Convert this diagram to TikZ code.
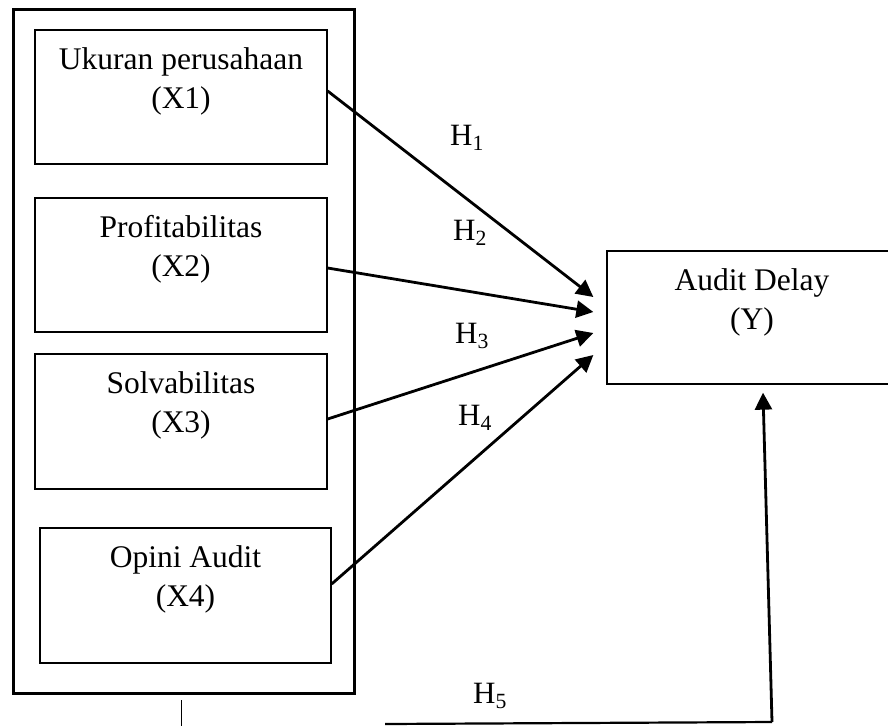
\documentclass[tikz,border=0pt]{standalone}
\usepackage{fontspec}
\setmainfont{Liberation Serif}
\usepackage{tikz}
\usetikzlibrary{arrows.meta}
\usetikzlibrary{positioning}
\tikzset{
	var node/.style={rectangle,draw,line width=1.3pt,inner sep=0pt,minimum width=292pt,minimum height=134pt},
	box text/.style={align=center,inner sep=0pt,font=\fontsize{31.5}{39}\selectfont},
	hyp label/.style={anchor=base,inner sep=0pt,font=\fontsize{31}{29}\selectfont},
	hyp arrow/.style={->,line width=2.8pt}
}

\begin{document}
\begin{tikzpicture}[x=1pt,y=-1pt,>={Triangle[length=17pt,width=17pt]}]
            \useasboundingbox (0,0) rectangle (888,726);
            \clip (0,0) rectangle (888,726);
            \node [var node,line width=3pt,minimum width=341pt,minimum height=684pt] (group) at (183.5,351) {};
            \node [var node] (x1) at (181,97) {};
            \node [var node] (x2) at (181,265) {};
            \node [var node,minimum height=135pt] (x3) at (181,421.5) {};
            \node [var node,minimum width=291pt,minimum height=135pt] (x4) at (185.5,595.5) {};
            \node [var node,minimum width=290pt,minimum height=133pt] (y) at (752,317.5) {};
            \node [box text,below=18pt of x1.north] (x1 text) {Ukuran perusahaan\\(X1)};
            \node [box text,below=18pt of x2.north] (x2 text) {Profitabilitas\\(X2)};
            \node [box text,below=18pt of x3.north] (x3 text) {Solvabilitas\\(X3)};
            \node [box text,below=18pt of x4.north] (x4 text) {Opini Audit\\(X4)};
            \node [box text,below=18pt of y.north] (y text) {Audit Delay\\(Y)};
            \node [hyp label] (h1) at (467,145) {H\textsubscript{1}};
            \node [hyp label] (h2) at (470,240) {H\textsubscript{2}};
            \node [hyp label] (h3) at (472,343) {H\textsubscript{3}};
            \node [hyp label] (h4) at (475,425) {H\textsubscript{4}};
            \node [hyp label] (h5) at (490,703) {H\textsubscript{5}};
            \draw [hyp arrow] ([yshift=6pt]x1.east) -- ([xshift=-13pt,yshift=20.5pt]y.west);
            \draw [hyp arrow] ([yshift=-3pt]x2.east) -- ([xshift=-13pt,yshift=5.5pt]y.west);
            \draw [hyp arrow] ([yshift=2.5pt]x3.east) -- ([xshift=-13pt,yshift=-15.5pt]y.west);
            \draw [hyp arrow] ([yshift=11.5pt]x4.east) -- ([xshift=-13pt,yshift=-37.5pt]y.west);
            \coordinate (h5 start) at (385,724);
            \coordinate (h5 corner) at (772,722);
            \coordinate (tick top) at (181,700);
            \coordinate (tick end) at (181,726);
            \draw [line width=2.2pt] (h5 start) -- (h5 corner);
            \draw [hyp arrow] (h5 corner) -- ([xshift=11pt,yshift=-8pt]y.south);
            \draw [line width=1pt] (tick top) -- (tick end);
          \end{tikzpicture}
\end{document}
